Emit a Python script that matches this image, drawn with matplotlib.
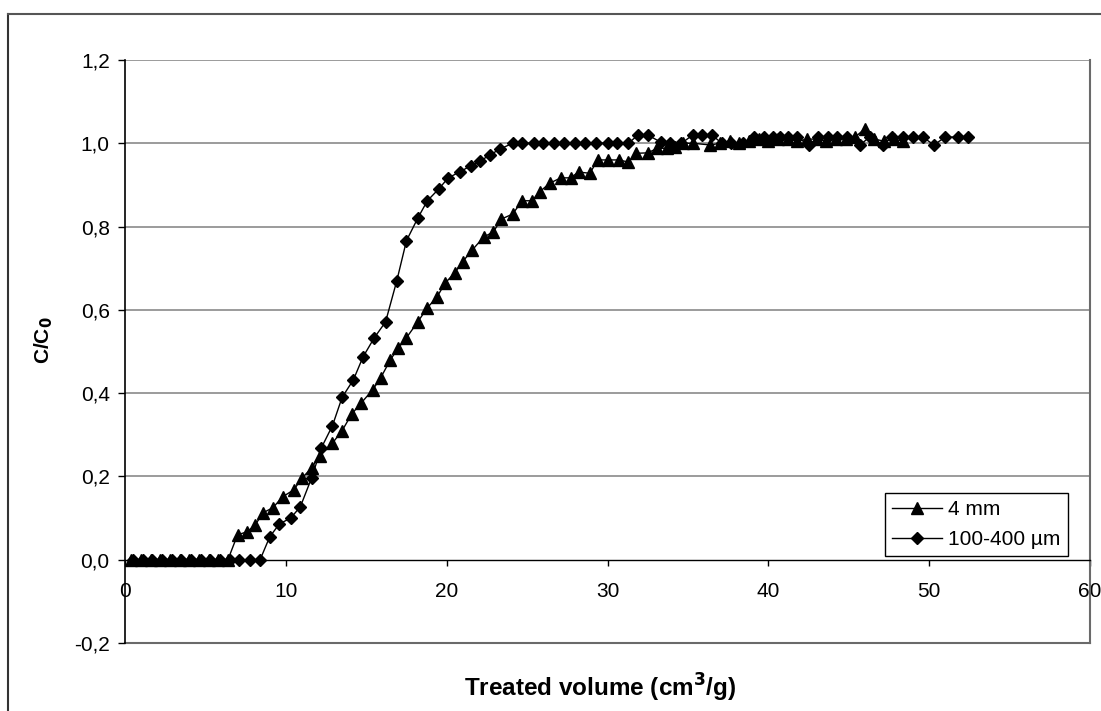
import matplotlib
matplotlib.use("Agg")
import matplotlib.pyplot as plt
from matplotlib.lines import Line2D

# ---------------- data ----------------
x_4mm = [0.4, 1.0, 1.6, 2.2, 2.8, 3.4, 4.0, 4.6, 5.2, 5.8, 6.4,
         7.0, 7.6, 8.1, 8.6, 9.2, 9.8, 10.5, 11.0, 11.6, 12.1, 12.9, 13.5,
         14.1, 14.7, 15.4, 15.9, 16.5, 17.0, 17.5, 18.2, 18.8, 19.4, 19.9,
         20.5, 21.0, 21.6, 22.3, 22.9, 23.4, 24.1, 24.7, 25.3, 25.8, 26.4,
         27.1, 27.7, 28.2, 28.9, 29.4, 30.0, 30.7, 31.3, 31.8, 32.5, 33.1,
         33.7, 34.2, 34.7, 35.3, 36.4, 37.0, 37.6, 38.2, 38.8, 39.4, 40.0,
         40.6, 41.2, 41.8, 42.4, 43.0, 43.6, 44.2, 44.8, 45.4, 46.0, 46.6,
         47.2, 47.8, 48.4]
y_4mm = [0.0, 0.0, 0.0, 0.0, 0.0, 0.0, 0.0, 0.0, 0.0, 0.0, 0.0,
         0.06, 0.067, 0.084, 0.113, 0.125, 0.151, 0.168, 0.196, 0.22, 0.25, 0.28, 0.31,
         0.35, 0.377, 0.408, 0.437, 0.48, 0.509, 0.533, 0.571, 0.605, 0.631, 0.664,
         0.689, 0.716, 0.744, 0.775, 0.787, 0.818, 0.83, 0.862, 0.862, 0.884, 0.904,
         0.917, 0.917, 0.931, 0.928, 0.96, 0.96, 0.96, 0.955, 0.976, 0.977, 0.988,
         0.988, 0.99, 1.0, 1.0, 0.996, 1.0, 1.005, 1.0, 1.005, 1.01, 1.005,
         1.01, 1.01, 1.005, 1.01, 1.01, 1.005, 1.01, 1.01, 1.015, 1.035, 1.01,
         1.005, 1.01, 1.005]

x_fine = [0.5, 1.1, 1.7, 2.3, 2.9, 3.5, 4.1, 4.7, 5.3, 5.9, 6.5, 7.1, 7.8, 8.4,
          9.0, 9.6, 10.3, 10.9, 11.6, 12.2, 12.9, 13.5, 14.2, 14.8, 15.5, 16.2,
          16.9, 17.5, 18.2, 18.8, 19.5, 20.1, 20.8, 21.5, 22.1, 22.7, 23.3,
          24.1, 24.7, 25.4, 26.0, 26.7, 27.3, 28.0, 28.6, 29.3, 30.0, 30.6, 31.3,
          31.9, 32.5, 33.3, 33.9, 34.6, 35.3, 35.9, 36.5, 37.1, 37.7, 38.4,
          39.1, 39.7, 40.3, 40.7, 41.2, 41.8, 42.5, 43.1, 43.7, 44.3, 44.9,
          45.7, 46.3, 47.1, 47.7, 48.4, 49.0, 49.6, 50.3, 51.0, 51.8, 52.4]
y_fine = [0.0, 0.0, 0.0, 0.0, 0.0, 0.0, 0.0, 0.0, 0.0, 0.0, 0.0, 0.0, 0.0, 0.0,
          0.055, 0.086, 0.1, 0.127, 0.196, 0.268, 0.322, 0.39, 0.432, 0.487, 0.533, 0.571,
          0.67, 0.766, 0.82, 0.862, 0.89, 0.917, 0.931, 0.946, 0.958, 0.972, 0.986,
          1.0, 1.0, 1.0, 1.0, 1.0, 1.0, 1.0, 1.0, 1.0, 1.0, 1.0, 1.0,
          1.02, 1.02, 1.003, 1.0, 1.0, 1.02, 1.02, 1.02, 1.0, 1.0, 1.0,
          1.015, 1.015, 1.015, 1.015, 1.015, 1.015, 0.996, 1.015, 1.015, 1.015, 1.015,
          0.996, 1.015, 0.996, 1.015, 1.015, 1.015, 1.015, 0.996, 1.015, 1.015, 1.015]

x_ticks = [0, 10, 20, 30, 40, 50, 60]
y_ticks = [-0.2, 0.0, 0.2, 0.4, 0.6, 0.8, 1.0, 1.2]
y_tick_labels = ["-0,2", "0,0", "0,2", "0,4", "0,6", "0,8", "1,0", "1,2"]
series_labels = ["4 mm", "100-400 µm"]

# ---------------- figure ----------------
plt.rcParams['font.family'] = ['Liberation Sans', 'DejaVu Sans']
W, H = 1101, 711
fig = plt.figure(figsize=(W / 100, H / 100), dpi=100)
ax = fig.add_axes([125 / W, (H - 643) / H, (1090 - 125) / W, (643 - 60) / H])

# outer frame (left and top)
fig.add_artist(Line2D([8 / W, 8 / W], [0, (H - 14) / H], transform=fig.transFigure,
                      color='#333333', lw=1.5))
fig.add_artist(Line2D([8 / W, 1.0], [(H - 14) / H, (H - 14) / H], transform=fig.transFigure,
                      color='#555555', lw=1.5))

ax.set_xlim(0, 60)
ax.set_ylim(-0.2, 1.2)

for yv in y_ticks:
    if yv != 0.0:
        ax.axhline(yv, color='#8a8a8a', lw=1.2, zorder=1)

ax.plot(x_4mm, y_4mm, color='black', lw=1.0, marker='^', ms=8,
        markerfacecolor='black', markeredgecolor='black', label=series_labels[0], zorder=3)
ax.plot(x_fine, y_fine, color='black', lw=1.0, marker='D', ms=6.5,
        markerfacecolor='black', markeredgecolor='black', label=series_labels[1], zorder=4)

# spines
ax.spines['bottom'].set_position(('data', 0))
ax.spines['bottom'].set_color('black')
ax.spines['bottom'].set_linewidth(1.0)
ax.spines['left'].set_color('black')
ax.spines['left'].set_linewidth(1.2)
ax.spines['right'].set_color('#6a6a6a')
ax.spines['right'].set_linewidth(1.5)
ax.spines['top'].set_visible(False)
ax.axhline(-0.2, color='#6a6a6a', lw=1.5, zorder=1, clip_on=False)

ax.set_xticks(x_ticks)
ax.set_xticklabels([str(v) for v in x_ticks])
ax.set_yticks(y_ticks)
ax.set_yticklabels(y_tick_labels)
ax.tick_params(axis='x', direction='out', length=4, width=1, pad=12, labelsize=15)
ax.tick_params(axis='y', direction='out', length=5, width=1, pad=6, labelsize=15)

fig.text(600 / W, (H - 688) / H, "Treated volume (cm$^\\mathbf{3}$/g)", ha='center', va='center',
         fontsize=17.5, fontweight='bold',
         family=['Liberation Sans Narrow', 'Liberation Sans', 'DejaVu Sans'])
fig.text(44 / W, (H - 340) / H, "C/C$_\\mathbf{0}$", ha='center', va='center', rotation=90,
         fontsize=15, fontweight='bold',
         family=['Liberation Sans Narrow', 'Liberation Sans', 'DejaVu Sans'])

leg = ax.legend(loc='lower right', bbox_to_anchor=(0.977, 0.149), fontsize=15,
                frameon=True, fancybox=False, edgecolor='black', framealpha=1,
                handlelength=2.4, handletextpad=0.3, borderpad=0.35, labelspacing=0.5,
                borderaxespad=0.0)
leg.get_frame().set_linewidth(1.0)
leg.set_zorder(5)

fig.savefig("out.png", dpi=100)
